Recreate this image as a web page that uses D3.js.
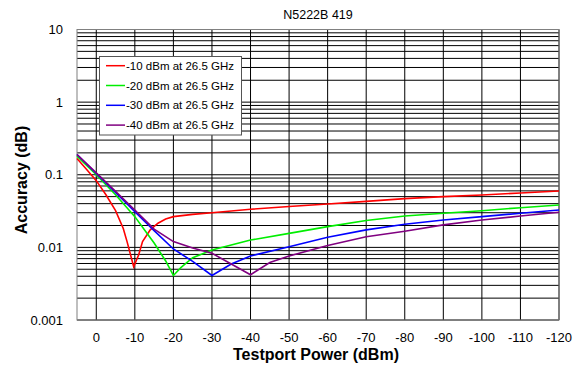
<!DOCTYPE html>
<html><head><meta charset="utf-8">
<script src="https://cdn.jsdelivr.net/npm/d3@7/dist/d3.min.js"></script>
<style>body{margin:0;background:#fff;}text{font-family:"Liberation Sans",Arial,sans-serif;}</style>
</head><body><svg id="c" width="575" height="373"></svg>
<script>
const title = "N5222B 419";
const seriesNames = ["-10 dBm at 26.5 GHz","-20 dBm at 26.5 GHz","-30 dBm at 26.5 GHz","-40 dBm at 26.5 GHz"];
const seriesColors = ["#ff0000","#00ee00","#0000ff","#800080"];
const xTicks = [0,-10,-20,-30,-40,-50,-60,-70,-80,-90,-100,-110,-120];
const yTicks = [0.001,0.01,0.1,1,10];
const yTickLabels = ["0.001","0.01","0.1","1","10"];

const redX =   [5, 2.5, 0, -2.5, -5, -7, -8, -9, -9.7, -11, -12, -14, -16, -18, -20, -25, -30, -40, -50, -60, -70, -80, -90, -100, -110, -120];
const redY =   [0.167, 0.118, 0.083, 0.053, 0.032, 0.0182, 0.0119, 0.0075, 0.0054, 0.0079, 0.012, 0.0174, 0.0215, 0.0245, 0.0265, 0.0285, 0.030, 0.0335, 0.0365, 0.0396, 0.043, 0.0469, 0.050, 0.0527, 0.056, 0.0598];
const greenX = [5, 0, -5, -10, -13, -15, -18, -20, -22, -25, -30, -40, -50, -60, -70, -80, -90, -100, -110, -120];
const greenY = [0.18, 0.1, 0.053, 0.0265, 0.016, 0.0115, 0.0065, 0.0041, 0.0053, 0.0072, 0.0092, 0.0126, 0.0156, 0.0193, 0.0235, 0.027, 0.0295, 0.032, 0.0352, 0.0384];
const blueX =  [5, 0, -5, -10, -15, -20, -25, -30, -35, -40, -50, -60, -70, -80, -90, -100, -110, -120];
const blueY =  [0.19, 0.104, 0.057, 0.031, 0.017, 0.0095, 0.0064, 0.0041, 0.0059, 0.0076, 0.0102, 0.0138, 0.0174, 0.0208, 0.0238, 0.0265, 0.0295, 0.0327];
const purpleX =[5, 0, -5, -10, -15, -20, -25, -30, -35, -40, -45, -50, -60, -70, -80, -90, -100, -110, -120];
const purpleY =[0.19, 0.106, 0.059, 0.0327, 0.0178, 0.012, 0.0098, 0.0083, 0.0059, 0.0042, 0.0062, 0.0076, 0.0106, 0.014, 0.0167, 0.0204, 0.0238, 0.027, 0.0304];
const seriesX = [redX, greenX, blueX, purpleX];
const seriesY = [redY, greenY, blueY, purpleY];

const svg = d3.select("#c");
const L = 77, R = 559, T = 29.5, B = 320;
const x = d3.scaleLinear().domain([5, -120]).range([L, R]);
const y = d3.scaleLog().domain([0.001, 10]).range([B, T]);

// grid
const g = svg.append("g");
const minors = [];
for (let e = -3; e < 1; e++) for (let m = 2; m <= 9; m++) minors.push(m * Math.pow(10, e));
g.selectAll("line.hmin").data(minors).enter().append("line")
  .attr("x1", L).attr("x2", R).attr("y1", d => y(d)).attr("y2", d => y(d))
  .attr("stroke", "#000").attr("stroke-width", 1);
g.selectAll("line.hmaj").data(yTicks).enter().append("line")
  .attr("x1", L).attr("x2", R).attr("y1", d => y(d)).attr("y2", d => y(d))
  .attr("stroke", "#000").attr("stroke-width", 1);
g.selectAll("line.v").data(xTicks).enter().append("line")
  .attr("x1", d => x(d)).attr("x2", d => x(d)).attr("y1", T).attr("y2", B)
  .attr("stroke", "#000").attr("stroke-width", 1);
svg.append("rect").attr("x", L).attr("y", T).attr("width", R - L).attr("height", B - T)
  .attr("fill", "none").attr("stroke", "#808080").attr("stroke-width", 1);

// lines
const line = d3.line().x(d => x(d[0])).y(d => y(d[1]));
seriesX.forEach((xs, i) => {
  const pts = xs.map((v, j) => [v, seriesY[i][j]]);
  svg.append("path").attr("d", line(pts)).attr("fill", "none")
    .attr("stroke", seriesColors[i]).attr("stroke-width", 1.6);
});

// axes labels
svg.selectAll("text.yt").data(yTicks).enter().append("text")
  .attr("x", 63).attr("y", d => y(d)).attr("dy", "0.35em").attr("text-anchor", "end")
  .attr("font-size", 13).text((d, i) => yTickLabels[i]);
svg.selectAll("text.xt").data(xTicks).enter().append("text")
  .attr("x", d => x(d)).attr("y", 337).attr("dy", "0.35em").attr("text-anchor", "middle")
  .attr("font-size", 13).text(d => String(d));

svg.append("text").attr("x", 318).attr("y", 19).attr("text-anchor", "middle")
  .attr("font-size", 12.5).text(title);
svg.append("text").attr("x", 316).attr("y", 360).attr("text-anchor", "middle")
  .attr("font-size", 16).attr("font-weight", "bold").text("Testport Power (dBm)");
svg.append("text").attr("transform", "translate(27,180) rotate(-90)").attr("text-anchor", "middle")
  .attr("font-size", 16).attr("font-weight", "bold").text("Accuracy (dB)");

// legend
const lg = svg.append("g");
lg.append("rect").attr("x", 99.5).attr("y", 56.5).attr("width", 142).attr("height", 78.5)
  .attr("fill", "#fff").attr("stroke", "#555").attr("stroke-width", 1);
seriesNames.forEach((n, i) => {
  const yy = 65.7 + i * 19.8;
  lg.append("line").attr("x1", 106).attr("x2", 125).attr("y1", yy).attr("y2", yy)
    .attr("stroke", seriesColors[i]).attr("stroke-width", 1.5);
  lg.append("text").attr("x", 126).attr("y", yy).attr("dy", "0.35em")
    .attr("font-size", 11.5).text(n);
});
</script></body></html>
